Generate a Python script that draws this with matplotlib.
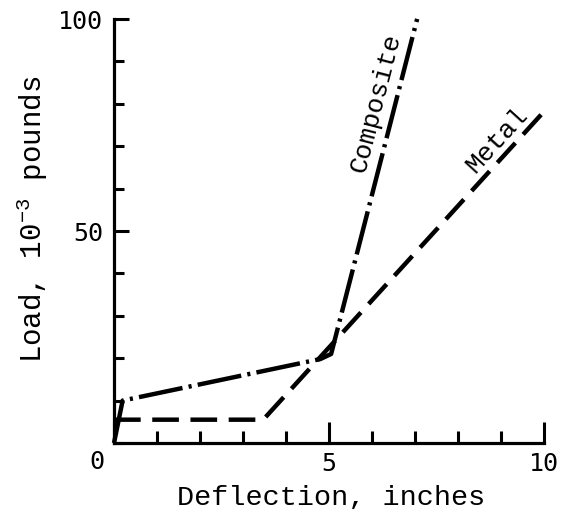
import matplotlib.pyplot as plt
from matplotlib.ticker import MultipleLocator, FixedLocator

# Data
composite_x = [0.0, 0.2, 4.8, 5.05, 7.05]
composite_y = [0.0, 10.0, 19.8, 21.0, 100.0]
metal_x = [0.0, 3.47, 9.95]
metal_y = [5.5, 5.5, 77.6]

x_major = [0, 5, 10]
x_labels = ['', '5', '10']
y_major = [50, 100]
y_labels = ['50', '100']

MONO = 'Liberation Mono'
TICKFONT = 'DejaVu Sans Mono'

plt.rcParams['mathtext.fontset'] = 'custom'
plt.rcParams['mathtext.rm'] = MONO
plt.rcParams['mathtext.it'] = MONO

fig = plt.figure(figsize=(5.65, 5.10), dpi=100)
ax = fig.add_axes([0.2018, 0.1294, 0.761, 0.8316])

lw = 3.2
comp, = ax.plot(composite_x, composite_y, color='black', lw=lw, clip_on=False,
                solid_capstyle='butt', dash_capstyle='butt')
comp.set_dashes([10, 1.4, 0.7, 1.4])
met, = ax.plot(metal_x, metal_y, color='black', lw=lw, clip_on=False,
               dash_capstyle='butt')
met.set_dashes([6, 2.6])

ax.set_xlim(0, 10)
ax.set_ylim(0, 100)

for s in ['top', 'right']:
    ax.spines[s].set_visible(False)
for s in ['left', 'bottom']:
    ax.spines[s].set_linewidth(2.3)

ax.xaxis.set_major_locator(FixedLocator(x_major))
ax.xaxis.set_minor_locator(MultipleLocator(1))
ax.yaxis.set_major_locator(FixedLocator(y_major))
ax.yaxis.set_minor_locator(MultipleLocator(10))
ax.set_xticklabels(x_labels)
ax.set_yticklabels(y_labels)

ax.tick_params(axis='x', which='major', direction='in', length=15, width=2.2, pad=6)
ax.tick_params(axis='x', which='minor', direction='in', length=9, width=2.2)
ax.tick_params(axis='y', which='major', direction='in', length=11, width=2.2, pad=8)
ax.tick_params(axis='y', which='minor', direction='in', length=7, width=2.2)
for lab in ax.get_xticklabels() + ax.get_yticklabels():
    lab.set_fontfamily(TICKFONT)
    lab.set_fontsize(18)

# the "0" sits left of the corner
ax.text(-0.4, -0.043, '0', transform=ax.get_xaxis_transform(), ha='center', va='center',
        fontfamily=TICKFONT, fontsize=18)

ax.set_xlabel('Deflection, inches', fontfamily=MONO, fontsize=20.5)
ax.xaxis.set_label_coords(0.506, -0.096)
ax.set_ylabel(r'Load, 10$^{-3}$ pounds', fontfamily=MONO, fontsize=21)
ax.yaxis.set_label_coords(-0.15, 0.53)

ax.text(6.09, 80.4, 'Composite', rotation=75.6, ha='center', va='center',
        fontfamily=MONO, fontsize=19, rotation_mode='anchor')
ax.text(8.9, 71.7, 'Metal', rotation=47.6, ha='center', va='center',
        fontfamily=MONO, fontsize=19, rotation_mode='anchor')

fig.savefig('out.png', dpi=100)
